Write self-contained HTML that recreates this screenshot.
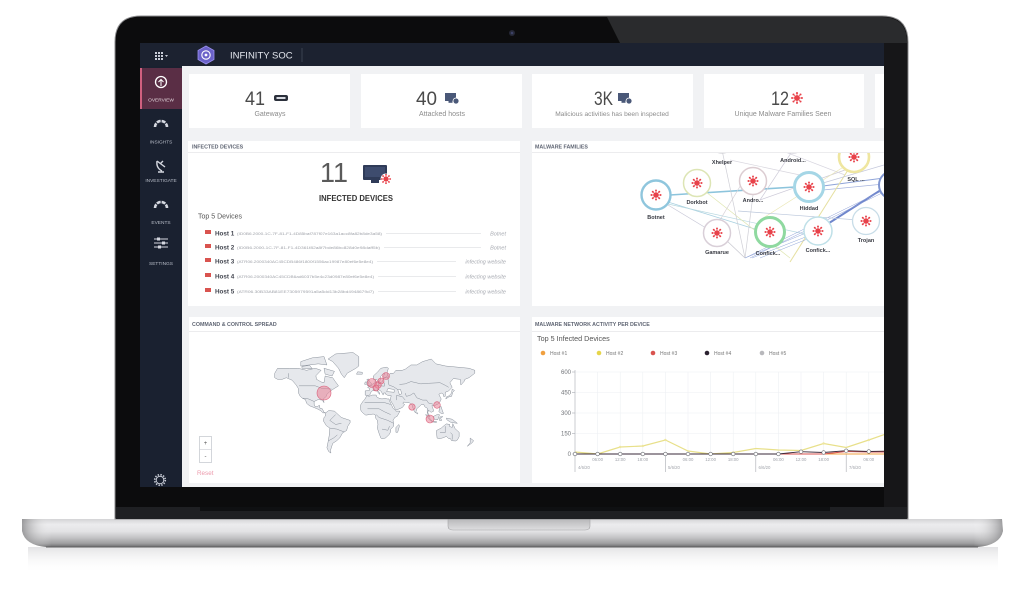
<!DOCTYPE html>
<html><head><meta charset="utf-8"><style>
html,body{margin:0;padding:0;background:#fff;width:1024px;height:607px;overflow:hidden}
svg{display:block}
text{font-family:"Liberation Sans",sans-serif}
</style></head><body>
<svg width="1024" height="607" viewBox="0 0 1024 607" xmlns="http://www.w3.org/2000/svg">
<defs>
<linearGradient id="base" x1="0" y1="0" x2="0" y2="1">
<stop offset="0" stop-color="#d4d4d6"/><stop offset="0.2" stop-color="#ececee"/><stop offset="0.45" stop-color="#e2e2e4"/><stop offset="0.65" stop-color="#c6c6c8"/><stop offset="0.88" stop-color="#9c9c9e"/><stop offset="1" stop-color="#6a6a6c"/>
</linearGradient>
<linearGradient id="baseh" x1="0" y1="0" x2="1" y2="0">
<stop offset="0" stop-color="#7a7a7c" stop-opacity="0.7"/><stop offset="0.03" stop-color="#fff" stop-opacity="0"/><stop offset="0.97" stop-color="#fff" stop-opacity="0"/><stop offset="1" stop-color="#7a7a7c" stop-opacity="0.7"/>
</linearGradient>
<linearGradient id="refl" x1="0" y1="0" x2="0" y2="1">
<stop offset="0" stop-color="#dcdcde" stop-opacity="0.8"/><stop offset="1" stop-color="#fff" stop-opacity="0"/>
</linearGradient>
<linearGradient id="notch" x1="0" y1="0" x2="0" y2="1">
<stop offset="0" stop-color="#b8b8ba"/><stop offset="1" stop-color="#dedee0"/>
</linearGradient>
<symbol id="v" viewBox="-8 -8 16 16">
<g stroke="#e8424a" stroke-width="0.9"><line x1="-4.6" y1="0" x2="4.6" y2="0"/><line x1="0" y1="-4.6" x2="0" y2="4.6"/><line x1="-3.3" y1="-3.3" x2="3.3" y2="3.3"/><line x1="-3.3" y1="3.3" x2="3.3" y2="-3.3"/></g>
<circle r="3.3" fill="#e8424a"/>
<g fill="#e8424a"><circle cx="5.6" cy="0" r="1.2"/><circle cx="4" cy="4" r="1.2"/><circle cx="0" cy="5.6" r="1.2"/><circle cx="-4" cy="4" r="1.2"/><circle cx="-5.6" cy="0" r="1.2"/><circle cx="-4" cy="-4" r="1.2"/><circle cx="0" cy="-5.6" r="1.2"/><circle cx="4" cy="-4" r="1.2"/></g>
</symbol>
<clipPath id="gclip"><rect x="532" y="153" width="352" height="153"/></clipPath>
<clipPath id="cclip"><rect x="532" y="331" width="352" height="152"/></clipPath>
</defs>

<!-- base reflection -->
<rect x="28" y="547" width="970" height="26" fill="url(#refl)"/>
<!-- laptop base -->
<path d="M22,519 L1002,519 L1003,531 Q1000,545 978,547 L46,547 Q25,545 22,531 Z" fill="url(#base)"/>
<path d="M22,519 L1002,519 L1003,531 Q1000,545 978,547 L46,547 Q25,545 22,531 Z" fill="url(#baseh)"/>
<line x1="46" y1="547" x2="978" y2="547" stroke="#5e5e60" stroke-width="1"/>
<path d="M448,519 L590,519 L590,526 Q590,530 585,530 L453,530 Q448,530 448,526 Z" fill="url(#notch)" stroke="#a4a4a6" stroke-width="0.6"/>

<!-- lid -->
<path d="M115,519 L115,42 Q115,16 141,16 L882,16 Q908,16 908,42 L908,519 Z" fill="#0c0c0d" stroke="#8e8e90" stroke-width="1"/>
<path d="M607,17 L882,17 Q907,17 907,42 L907,43 L620,43 Z" fill="#2a2b2d"/>
<rect x="884" y="43" width="23" height="464" fill="#161618"/>
<rect x="116" y="507" width="791" height="12" fill="#1f2023"/>
<rect x="200" y="507" width="630" height="4" fill="#0f1012"/>
<circle cx="512" cy="33" r="3" fill="#262836"/><circle cx="512" cy="33" r="1.3" fill="#3c4266"/>

<!-- screen -->
<rect x="140" y="43" width="744" height="444" fill="#f1f2f4"/>
<rect x="140" y="43" width="744" height="23" fill="#1c2230"/>
<rect x="140" y="66" width="42" height="421" fill="#1a2130"/>
<!-- header -->
<g fill="#c9cdd8">
<rect x="155" y="52" width="2" height="2"/><rect x="158" y="52" width="2" height="2"/><rect x="161" y="52" width="2" height="2"/>
<rect x="155" y="55" width="2" height="2"/><rect x="158" y="55" width="2" height="2"/><rect x="161" y="55" width="2" height="2"/>
<rect x="155" y="58" width="2" height="2"/><rect x="158" y="58" width="2" height="2"/><rect x="161" y="58" width="2" height="2"/>
<path d="M165,55 L168,55 L166.5,57 Z"/>
</g>
<polygon points="206,46 214,50.5 214,59.5 206,64 198,59.5 198,50.5" fill="#6b62c9" stroke="#9a90ee" stroke-width="0.8"/>
<circle cx="206" cy="55" r="4.2" fill="none" stroke="#fff" stroke-width="1.1"/>
<circle cx="206" cy="55" r="1.4" fill="#fff"/>
<text x="230" y="58.5" font-size="9.5" fill="#e4e7ee">INFINITY SOC</text>
<line x1="302" y1="48" x2="302" y2="62" stroke="#3a4150" stroke-width="1"/>

<!-- sidebar -->
<rect x="140" y="68" width="42" height="41" fill="#5a2e45"/>
<rect x="140" y="68" width="2" height="41" fill="#d0607f"/>
<circle cx="161" cy="82" r="5.5" fill="none" stroke="#fff" stroke-width="1.3"/>
<path d="M161,86 L161,80 M158.5,82 L161,79.5 L163.5,82" fill="none" stroke="#fff" stroke-width="1"/>
<text x="161" y="101.5" font-size="4.8" fill="#e2d5dc" text-anchor="middle">OVERVIEW</text>
<path d="M155,127 A6,6 0 0 1 167,127" fill="none" stroke="#d5d8e0" stroke-width="2.6" stroke-dasharray="4 1"/>
<text x="161" y="143.5" font-size="4.8" fill="#b8bdc8" text-anchor="middle">INSIGHTS</text>
<path d="M157,161 Q156,168 162,171 M157,161 L165,167 M160,164 L163,161 M158,172 L164,172" fill="none" stroke="#d5d8e0" stroke-width="1.4"/>
<text x="161" y="182" font-size="4.8" fill="#b8bdc8" text-anchor="middle">INVESTIGATE</text>
<path d="M155,208 A6,6 0 0 1 167,208" fill="none" stroke="#d5d8e0" stroke-width="2.6" stroke-dasharray="4 1"/>
<text x="161" y="224" font-size="4.8" fill="#b8bdc8" text-anchor="middle">EVENTS</text>
<g stroke="#d5d8e0" stroke-width="1"><line x1="154" y1="239" x2="168" y2="239"/><line x1="154" y1="243" x2="168" y2="243"/><line x1="154" y1="247" x2="168" y2="247"/></g>
<g fill="#d5d8e0"><rect x="157" y="237.5" width="3" height="3"/><rect x="162" y="241.5" width="3" height="3"/><rect x="158" y="245.5" width="3" height="3"/></g>
<text x="161" y="265" font-size="4.8" fill="#b8bdc8" text-anchor="middle">SETTINGS</text>
<circle cx="160" cy="480" r="3.8" fill="none" stroke="#c8ccd6" stroke-width="1"/>
<circle cx="160" cy="480" r="5.3" fill="none" stroke="#c8ccd6" stroke-width="1.6" stroke-dasharray="1.4 1.4"/>

<!-- stat cards -->
<rect x="189" y="74" width="161" height="54" fill="#fff"/>
<rect x="361" y="74" width="161" height="54" fill="#fff"/>
<rect x="532" y="74" width="161" height="54" fill="#fff"/>
<rect x="704" y="74" width="160" height="54" fill="#fff"/>
<rect x="875" y="74" width="9" height="54" fill="#fff"/>
<text x="245" y="105" font-size="19" fill="#4a4a4a" textLength="20" lengthAdjust="spacingAndGlyphs">41</text>
<rect x="274" y="95" width="14" height="6" rx="2" fill="#2b303b"/><rect x="276.5" y="97" width="9" height="2" fill="#d8dbe2"/>
<text x="270" y="116" font-size="7" fill="#8c8c8c" text-anchor="middle">Gateways</text>
<text x="416" y="105" font-size="19" fill="#4a4a4a" textLength="21" lengthAdjust="spacingAndGlyphs">40</text>
<rect x="445" y="93" width="11" height="8" fill="#4a5878"/><rect x="448.5" y="101" width="4" height="1.8" fill="#4a5878"/><circle cx="456" cy="101" r="3" fill="#4a5878" stroke="#fff" stroke-width="0.8"/>
<text x="442" y="116" font-size="7" fill="#8c8c8c" text-anchor="middle">Attacked hosts</text>
<text x="594" y="105" font-size="19" fill="#4a4a4a" textLength="19" lengthAdjust="spacingAndGlyphs">3K</text>
<rect x="618" y="93" width="11" height="8" fill="#4a5878"/><rect x="621.5" y="101" width="4" height="1.8" fill="#4a5878"/><circle cx="629" cy="101" r="3" fill="#4a5878" stroke="#fff" stroke-width="0.8"/>
<text x="612" y="116" font-size="6.6" fill="#8c8c8c" text-anchor="middle">Malicious activities has been inspected</text>
<text x="771" y="105" font-size="19" fill="#4a4a4a" textLength="18" lengthAdjust="spacingAndGlyphs">12</text>
<use href="#v" x="790" y="91" width="14" height="14"/>
<text x="783" y="116" font-size="7" fill="#8c8c8c" text-anchor="middle">Unique Malware Families Seen</text>

<!-- panels -->
<rect x="188" y="141" width="332" height="165" fill="#fff"/>
<line x1="188" y1="152.5" x2="520" y2="152.5" stroke="#ececee" stroke-width="1"/>
<rect x="532" y="141" width="352" height="165" fill="#fff"/>
<line x1="532" y1="152.5" x2="884" y2="152.5" stroke="#ececee" stroke-width="1"/>
<rect x="189" y="317" width="331" height="166" fill="#fff"/>
<line x1="189" y1="331.5" x2="520" y2="331.5" stroke="#ececee" stroke-width="1"/>
<rect x="532" y="317" width="352" height="166" fill="#fff"/>
<line x1="532" y1="331.5" x2="884" y2="331.5" stroke="#ececee" stroke-width="1"/>
<text x="192" y="148.5" font-size="5.3" font-weight="bold" fill="#5f6573">INFECTED DEVICES</text>
<text x="535" y="148.5" font-size="5.3" font-weight="bold" fill="#5f6573">MALWARE FAMILIES</text>
<text x="192" y="326" font-size="5.3" font-weight="bold" fill="#5f6573">COMMAND &amp; CONTROL SPREAD</text>
<text x="535" y="326" font-size="5.3" font-weight="bold" fill="#5f6573">MALWARE NETWORK ACTIVITY PER DEVICE</text>

<!-- infected devices -->
<text x="320" y="182" font-size="28" fill="#5a5a5a" textLength="28" lengthAdjust="spacingAndGlyphs">11</text>
<rect x="363" y="165" width="24" height="15" rx="1" fill="#2f3b58"/>
<rect x="365" y="167" width="20" height="10" fill="#3e4c6e"/>
<rect x="371" y="180" width="8" height="3" fill="#2f3b58"/>
<circle cx="386" cy="179" r="5.5" fill="#fff"/>
<use href="#v" x="380" y="173" width="12" height="12"/>
<text x="356" y="201" font-size="8" font-weight="bold" fill="#333" text-anchor="middle" textLength="74" lengthAdjust="spacingAndGlyphs">INFECTED DEVICES</text>
<text x="198" y="218.5" font-size="7" fill="#555">Top 5 Devices</text>
<g font-size="6.3">
<g fill="#d9534f"><rect x="205" y="230" width="6" height="4"/><rect x="205" y="244" width="6" height="4"/><rect x="205" y="258" width="6" height="4"/><rect x="205" y="273" width="6" height="4"/><rect x="205" y="288" width="6" height="4"/></g>
<g fill="#434650" font-weight="bold"><text x="215" y="235.5">Host 1</text><text x="215" y="249.5">Host 2</text><text x="215" y="263.5">Host 3</text><text x="215" y="278.5">Host 4</text><text x="215" y="293.5">Host 5</text></g>
</g>
<g font-size="4" fill="#a0a3aa">
<text x="237" y="235" textLength="145" lengthAdjust="spacingAndGlyphs">(ID0B6.2000-1C-7F-81-F1-4D85baf787f07e163a1acc8fa82b8de3a58)</text>
<text x="237" y="249" textLength="143" lengthAdjust="spacingAndGlyphs">(ID0B6.2000-1C-7F-81-F1-4D361f82a8f7bde86bc828d0e98daff5b)</text>
<text x="237" y="263" textLength="136" lengthAdjust="spacingAndGlyphs">(ATR06.2000340AC45CDB486f1800f1556ac19987e80ef6e5e8e4)</text>
<text x="237" y="278" textLength="137" lengthAdjust="spacingAndGlyphs">(ATR06.2000340AC45CDB6ad6037b5e4c23d0987e80ef6e5e8e4)</text>
<text x="237" y="293" textLength="137" lengthAdjust="spacingAndGlyphs">(ATR06.30B33AB81EE7305979591a5a5dd13b28bd4948679d7)</text>
</g>
<g stroke="#d4d6da" stroke-width="0.6">
<line x1="386" y1="233.5" x2="481" y2="233.5"/><line x1="384" y1="247.5" x2="481" y2="247.5"/>
<line x1="377" y1="261.5" x2="456" y2="261.5"/><line x1="378" y1="276.5" x2="456" y2="276.5"/><line x1="378" y1="291.5" x2="456" y2="291.5"/>
</g>
<g font-size="5.5" font-style="italic" fill="#a8abb2" text-anchor="end">
<text x="506" y="235.5">Botnet</text><text x="506" y="249.5">Botnet</text><text x="506" y="263.5">infecting website</text><text x="506" y="278.5">infecting website</text><text x="506" y="293.5">infecting website</text>
</g>

<!-- malware families graph -->
<g clip-path="url(#gclip)">
<g fill="none" stroke-width="0.7">
<line x1="670" y1="195" x2="795" y2="187" stroke="#8cc4dc" stroke-width="1.6"/>
<line x1="823" y1="186" x2="884" y2="178" stroke="#8fa4d8" stroke-width="1"/>
<line x1="823" y1="190" x2="884" y2="184" stroke="#a6b4de"/>
<line x1="668" y1="202" x2="758" y2="230" stroke="#a8d0e0"/>
<line x1="668" y1="204" x2="805" y2="234" stroke="#b8d8e0"/>
<line x1="668" y1="205" x2="706" y2="228" stroke="#c6c6d6"/>
<line x1="706" y1="192" x2="790" y2="258" stroke="#dfe6b0"/>
<line x1="722" y1="150" x2="745" y2="258" stroke="#cfcfd6"/>
<line x1="753" y1="195" x2="745" y2="258" stroke="#cfcfd6"/>
<line x1="745" y1="178" x2="720" y2="220" stroke="#d6d0d6"/>
<line x1="793" y1="150" x2="760" y2="200" stroke="#cdcad8"/>
<line x1="760" y1="200" x2="845" y2="170" stroke="#cdcad8"/>
<line x1="780" y1="150" x2="845" y2="175" stroke="#d8d6e0"/>
<line x1="848" y1="170" x2="790" y2="262" stroke="#e6e0a0" stroke-width="1"/>
<line x1="845" y1="166" x2="760" y2="220" stroke="#eae6b4"/>
<line x1="884" y1="188" x2="826" y2="225" stroke="#6f86cc" stroke-width="2"/>
<line x1="884" y1="190" x2="745" y2="258" stroke="#8fa0d8" stroke-width="0.5"/>
<line x1="884" y1="192" x2="750" y2="258" stroke="#8fa0d8" stroke-width="0.5"/>
<line x1="806" y1="233" x2="745" y2="258" stroke="#90a6d8" stroke-width="0.5"/>
<line x1="808" y1="236" x2="752" y2="258" stroke="#90a6d8" stroke-width="0.5"/>
<line x1="810" y1="238" x2="760" y2="258" stroke="#90a6d8" stroke-width="0.5"/>
<line x1="738" y1="211" x2="858" y2="220" stroke="#bcc8dc"/>
<line x1="726" y1="240" x2="745" y2="258" stroke="#c8c8d0"/>
<line x1="823" y1="183" x2="884" y2="165" stroke="#c4c8dc"/>
<line x1="730" y1="160" x2="800" y2="175" stroke="#d8d6de"/>
</g>
<g fill="#fff">
<circle cx="722" cy="139" r="14" stroke="#cfcfd4" stroke-width="1.3"/>
<circle cx="793" cy="139" r="14" stroke="#d0cfd8" stroke-width="1.3"/>
<circle cx="656" cy="195" r="14.5" stroke="#8fc6dd" stroke-width="2.4"/>
<circle cx="697" cy="183" r="13.5" stroke="#dde5b5" stroke-width="1.5"/>
<circle cx="753" cy="181" r="13.5" stroke="#dccdd2" stroke-width="1.5"/>
<circle cx="809" cy="187" r="14.5" stroke="#a5d6e6" stroke-width="3"/>
<circle cx="854" cy="157" r="15" stroke="#efe6a0" stroke-width="2.6"/>
<circle cx="893" cy="185" r="14" stroke="#7f95d0" stroke-width="2"/>
<circle cx="717" cy="233" r="13.5" stroke="#d9cfd8" stroke-width="1.5"/>
<circle cx="770" cy="232" r="14.5" stroke="#8fd9a0" stroke-width="3"/>
<circle cx="818" cy="231" r="14" stroke="#bfe0e8" stroke-width="1.5"/>
<circle cx="866" cy="221" r="13.5" stroke="#c8dde8" stroke-width="1.3"/>
</g>
<use href="#v" x="649.5" y="188.5" width="13" height="13"/>
<use href="#v" x="690.5" y="176.5" width="13" height="13"/>
<use href="#v" x="746.5" y="174.5" width="13" height="13"/>
<use href="#v" x="802.5" y="180.5" width="13" height="13"/>
<use href="#v" x="847.5" y="150.5" width="13" height="13"/>
<use href="#v" x="710.5" y="226.5" width="13" height="13"/>
<use href="#v" x="763.5" y="225.5" width="13" height="13"/>
<use href="#v" x="811.5" y="224.5" width="13" height="13"/>
<use href="#v" x="859.5" y="214.5" width="13" height="13"/>
<g font-size="5.5" font-weight="bold" fill="#3a3c44" text-anchor="middle">
<text x="722" y="164">Xhelper</text><text x="793" y="162">Android...</text>
<text x="656" y="219">Botnet</text><text x="697" y="204">Dorkbot</text><text x="753" y="202">Andro...</text>
<text x="809" y="210">Hiddad</text><text x="856" y="181">SQL ...</text>
<text x="717" y="254">Gamarue</text><text x="768" y="255">Confick...</text><text x="818" y="252">Confick...</text><text x="866" y="242">Trojan</text>
</g>
</g>

<!-- map -->
<g transform="translate(370.4,417.5) scale(0.58,-0.58)" fill="#e6e8ec" stroke="#7f8792" stroke-width="0.8" stroke-linejoin="round">
<polygon points="-165,76.3 -160,84.9 -140,84.9 -125,84.9 -110,81.4 -95,84.9 -85,81.4 -94,72 -93,66 -85,61.3 -80,60 -78,71.6 -72,70 -65,68.6 -60,61.3 -55,54.6 -65,48.3 -70,44.7 -75,40 -76,36.5 -81,32 -80,25.5 -83,30 -90,30.9 -97,27.6 -97,22.4 -95,18.3 -91,19 -88,21.4 -87,16.1 -83,15.1 -80,9 -77,8 -82,8 -86,12 -92,15.1 -105,20.3 -110,24.5 -112,30.9 -117,33.1 -121,36.5 -124,42.3 -124,49.6 -128,56 -135,64.3 -145,68.6 -152,65.8 -160,65.8 -165,68.6"/>
<polygon points="-73,100.8 -60,109.6 -30,112 -20,105 -20,88.7 -25,84.9 -40,76.3 -45,68.6 -50,74.7 -55,84.9 -65,96.4"/>
<polygon points="-120,88.7 -90,92.5 -75,90.6 -80,105 -100,102.9 -120,96.4"/>
<polygon points="-80,84.9 -62,79.6 -66,71.6 -78,74.7"/>
<polygon points="-118,84.9 -100,84 -105,90 -118,88"/>
<polygon points="-77,8 -72,12 -62,11 -50,0 -35,-5 -35,-9 -39,-15.1 -41,-22.4 -48,-26.6 -53,-35.4 -58,-40 -65,-44.7 -67,-50.8 -69,-57.3 -68,-61.3 -72,-58.6 -75,-52.1 -73,-42.3 -71,-30.9 -70,-18.3 -76,-14 -81,-6 -80,0 -78,2"/>
<polygon points="-9,38.7 -9,45.9 -2,46.5 -1,49.6 -5,52.1 1,54.6 5,58.6 8,59.9 8,64.2 10,61.3 12,59.9 20,61.3 22,65.8 24,68.6 30,68.6 34,76.3 40,76.3 44,81.4 55,81.4 60,83.2 70,90.6 80,90.6 90,96.4 105,100.8 113,92.5 130,88.7 150,86.8 170,84.9 180,81.4 180,76.3 170,68.6 163,65.8 162,62.7 156,56 155,65.8 143,67.1 137,59.9 141,52.1 135,45.9 129,43.5 129,36.5 126,36.5 126,40 122,42.3 118,40 122,32 121,28.7 117,23.4 110,20.3 106,20.3 108,15.1 109,11 105,9 103,10 100,13 99,8 103,1 100,3 98,8 98,16.1 94,18.3 92,22.4 88,22.4 86,20.3 80,15.1 78,8 76,10 73,17.2 72,21.4 67,25.5 57,26.6 56,24.5 59,22.4 55,17.2 45,13 43,14 39,22.4 35,28.7 34,31 35,34.3 36,37.6 30,38.1 26,40.5 26,42.3 23,42.3 22,38.7 20,42.3 19,44.7 13,49 12,46.9 16,42.3 16,39.8 12,44.7 9,46.9 3,45.9 0,42.3 -1,38.7 -5,37.6"/>
<polygon points="5,65.8 5,71.6 12,78 18,84.9 28,86.8 31,84.9 29,78 30,71.6 25,68.6 22,70.1 25,76.3 21,74.7 17,70.1 18,67.1 16,62.7 13,62 11,65.8 8,65.8"/>
<polygon points="-5,54.6 1,55.9 2,58.6 -2,62.7 -3,66.4 -6,65.8 -5,61.3 -3,59.9 -5,57.3"/>
<polygon points="-10,57.3 -6,57.3 -6,61.3 -9,61.3"/>
<polygon points="-24,74.7 -14,74.7 -14,78 -22,78.8"/>
<polygon points="-17,21.4 -17,15.1 -16,11 -12,7 -8,4 -2,5 5,6 9,4 9,-1 12,-5 13,-12 12,-18.3 15,-27.6 18,-35.4 20,-36.5 26,-35.4 32,-29.8 35,-24.5 35,-20.3 40,-15.1 40,-10 39,-5 42,0 46,2 51,11 44,11 43,12.5 39,16.1 37,20.3 35,24.5 33,28.7 32,32 29,32 25,33.1 20,32 15,33.1 11,35.4 10,38.7 3,38.7 -2,36.5 -6,37.6 -10,30.9 -13,27.6"/>
<polygon points="44,-25.5 47,-25.5 50,-15.1 49,-12 44,-17.2"/>
<polygon points="114,-22.4 114,-26.6 115,-35.4 118,-36.5 124,-35.4 131,-32.6 135,-36.5 138,-36.5 140,-40 147,-40.5 150,-38.7 153,-33.1 153,-25.5 146,-19.2 142,-10.5 141,-17.2 136,-15.1 137,-12 131,-11 127,-14 122,-18.3"/>
<polygon points="95,5 98,4 106,-6 103,-5"/>
<polygon points="109,2 115,5 119,5 118,1 116,-4 110,-3"/>
<polygon points="105,-6 114,-7 114,-8.5 106,-7.5"/>
<polygon points="119,-5 120,1 125,1.5 121,-1 123,-5"/>
<polygon points="131,-1 141,-3 150,-10 143,-9 138,-8 132,-4"/>
<polygon points="120,18.3 122,18.8 124,12 126,7 122,7 118,10"/>
<polygon points="130,32 135,35.4 140,36.5 141,40 142,43.5 145,46.5 141,49 140,42.3 136,37.6 131,35.4"/>
<polygon points="172,-35.4 178,-40 175,-44 167,-49.6 172,-43.5"/>
<polygon points="80,9 82,7 81,6 80,6.5"/>
<polygon points="28,44.7 41,43.5 41,48.3 33,49.6 30,49.6" fill="#fff"/>
<polygon points="47,48.3 52,48.3 54,41 50,39 49,43" fill="#fff"/>
<g fill="none">
<polyline points="-123,54.6 -95,54.6 -83,50 -75,49.6 -67,49"/>
<polyline points="-117,33.1 -108,32.5 -97,27.6"/>
<polyline points="-141,68.6 -141,76.3"/>
<polyline points="30,68.6 32,56 40,53 47,48.3"/>
<polyline points="50,57 60,58 70,62 87,58 100,59 120,60 130,55 135,52"/>
<polyline points="75,42.3 80,34 90,30 97,30 100,25 108,23"/>
<polyline points="60,42 62,36.5 68,38 75,42.3"/>
<polyline points="14,59 14,55 24,54 24,60"/>
<polyline points="2,55 6,50 8,46.9"/>
<polyline points="-10,25.5 25,25.5 35,22.4"/>
<polyline points="-5,15 15,15 24,10 35,5"/>
<polyline points="10,5 15,0 30,-5 40,-10"/>
<polyline points="20,-20 30,-22 33,-15"/>
<polyline points="-70,-18.3 -58,-20 -45,-25"/>
<polyline points="-60,5 -70,-5 -60,-12 -50,-10"/>
<polyline points="-72,-40 -63,-35 -57,-30"/>
<polyline points="45,30 45,38 55,36 60,30"/>
<polyline points="120,-26 129,-26 129,-15"/>
<polyline points="138,-26 141,-29 141,-38"/>
</g>
</g>
<g fill="#ea7f95" fill-opacity="0.55" stroke="#d9607a" stroke-width="0.6">
<circle cx="324" cy="393" r="7"/>
<circle cx="372" cy="383" r="4.5"/>
<circle cx="378" cy="385" r="3.3"/>
<circle cx="376" cy="388" r="3"/>
<circle cx="386" cy="376" r="3.5"/>
<circle cx="381" cy="381" r="3"/>
<circle cx="412" cy="407" r="3.2"/>
<circle cx="437" cy="405" r="3.3"/>
<circle cx="430" cy="419" r="4"/>
</g>
<rect x="199.5" y="436.5" width="12" height="26" fill="#fff" stroke="#c9ccd2" stroke-width="0.8"/>
<line x1="199.5" y1="449.5" x2="211.5" y2="449.5" stroke="#c9ccd2" stroke-width="0.6"/>
<text x="205.5" y="445" font-size="6" fill="#555" text-anchor="middle">+</text>
<text x="205.5" y="458" font-size="6" fill="#555" text-anchor="middle">-</text>
<text x="197" y="475" font-size="6.3" fill="#ec9aac">Reset</text>

<!-- chart -->
<text x="537" y="341" font-size="7.2" fill="#555">Top 5 Infected Devices</text>
<g font-size="5" fill="#777">
<circle cx="543" cy="353" r="2.3" fill="#f0a040"/><text x="550" y="355">Host #1</text>
<circle cx="599" cy="353" r="2.3" fill="#e6d54a"/><text x="606" y="355">Host #2</text>
<circle cx="653" cy="353" r="2.3" fill="#d9534f"/><text x="660" y="355">Host #3</text>
<circle cx="707" cy="353" r="2.3" fill="#2c2230"/><text x="714" y="355">Host #4</text>
<circle cx="762" cy="353" r="2.3" fill="#b8b8bc"/><text x="769" y="355">Host #5</text>
</g>
<g clip-path="url(#cclip)">
<g stroke="#eef0f3" stroke-width="0.6">
<line x1="597.6" y1="372" x2="597.6" y2="454"/><line x1="620.2" y1="372" x2="620.2" y2="454"/><line x1="642.8" y1="372" x2="642.8" y2="454"/><line x1="665.4" y1="372" x2="665.4" y2="454"/><line x1="688" y1="372" x2="688" y2="454"/><line x1="710.6" y1="372" x2="710.6" y2="454"/><line x1="733.2" y1="372" x2="733.2" y2="454"/><line x1="755.8" y1="372" x2="755.8" y2="454"/><line x1="778.4" y1="372" x2="778.4" y2="454"/><line x1="801" y1="372" x2="801" y2="454"/><line x1="823.6" y1="372" x2="823.6" y2="454"/><line x1="846.2" y1="372" x2="846.2" y2="454"/><line x1="868.8" y1="372" x2="868.8" y2="454"/>
<line x1="575" y1="372" x2="884" y2="372"/><line x1="575" y1="392.5" x2="884" y2="392.5"/><line x1="575" y1="413" x2="884" y2="413"/><line x1="575" y1="433.5" x2="884" y2="433.5"/>
</g>
<g stroke="#a8abb2" stroke-width="0.6">
<line x1="575" y1="370" x2="575" y2="472"/><line x1="665.4" y1="454" x2="665.4" y2="472"/><line x1="755.8" y1="454" x2="755.8" y2="472"/><line x1="846.2" y1="454" x2="846.2" y2="472"/>
<line x1="572" y1="372" x2="575" y2="372"/><line x1="572" y1="392.5" x2="575" y2="392.5"/><line x1="572" y1="413" x2="575" y2="413"/><line x1="572" y1="433.5" x2="575" y2="433.5"/><line x1="572" y1="454" x2="575" y2="454"/>
</g>
<polyline points="575,452 597.6,454 620.2,447 642.8,446 665.4,440 688,451 710.6,454 733.2,452.5 755.8,448.5 778.4,450 801,450.5 823.6,443.5 846.2,447.5 868.8,440 891.4,432" fill="none" stroke="#e8e08a" stroke-width="1.2"/>
<g fill="#eee6a0"><circle cx="620.2" cy="447" r="1.2"/><circle cx="642.8" cy="446" r="1.2"/><circle cx="665.4" cy="440" r="1.2"/><circle cx="733.2" cy="452.5" r="1.2"/><circle cx="823.6" cy="443.5" r="1.2"/><circle cx="868.8" cy="440" r="1.2"/></g>
<line x1="575" y1="454" x2="884" y2="454" stroke="#f0a040" stroke-width="0.9"/>
<polyline points="575,454 823.6,454 846.2,451.5 868.8,452 891.4,452" fill="none" stroke="#d9534f" stroke-width="1"/>
<polyline points="575,454 778.4,454 801,451.7 823.6,452.5 846.2,450.7 868.8,451.5 891.4,451" fill="none" stroke="#3a2a3a" stroke-width="0.9"/>
<g fill="#fff" stroke="#6a6c72" stroke-width="0.6">
<circle cx="575" cy="454" r="1.8"/><circle cx="597.6" cy="454" r="1.8"/><circle cx="620.2" cy="454" r="1.8"/><circle cx="642.8" cy="454" r="1.8"/><circle cx="665.4" cy="454" r="1.8"/><circle cx="688" cy="454" r="1.8"/><circle cx="710.6" cy="454" r="1.8"/><circle cx="733.2" cy="454" r="1.8"/><circle cx="755.8" cy="454" r="1.8"/><circle cx="778.4" cy="454" r="1.8"/><circle cx="801" cy="451.7" r="1.8"/><circle cx="823.6" cy="452.5" r="1.8"/><circle cx="846.2" cy="450.7" r="1.8"/><circle cx="868.8" cy="451.5" r="1.8"/>
</g>
<g font-size="4.3" fill="#a0a3aa" text-anchor="middle">
<text x="597.6" y="461">06:00</text><text x="620.2" y="461">12:00</text><text x="642.8" y="461">18:00</text>
<text x="688" y="461">06:00</text><text x="710.6" y="461">12:00</text><text x="733.2" y="461">18:00</text>
<text x="778.4" y="461">06:00</text><text x="801" y="461">12:00</text><text x="823.6" y="461">18:00</text>
<text x="868.8" y="461">06:00</text>
</g>
<g font-size="4.3" fill="#a0a3aa">
<text x="578" y="469">4/6/20</text><text x="668" y="469">5/6/20</text><text x="758.5" y="469">6/6/20</text><text x="849" y="469">7/6/20</text>
</g>
</g>
<g font-size="6" fill="#707378" text-anchor="end">
<text x="571" y="374">600</text><text x="571" y="394.5">450</text><text x="571" y="415">300</text><text x="571" y="435.5">150</text><text x="571" y="456">0</text>
</g>
</svg>
</body></html>
